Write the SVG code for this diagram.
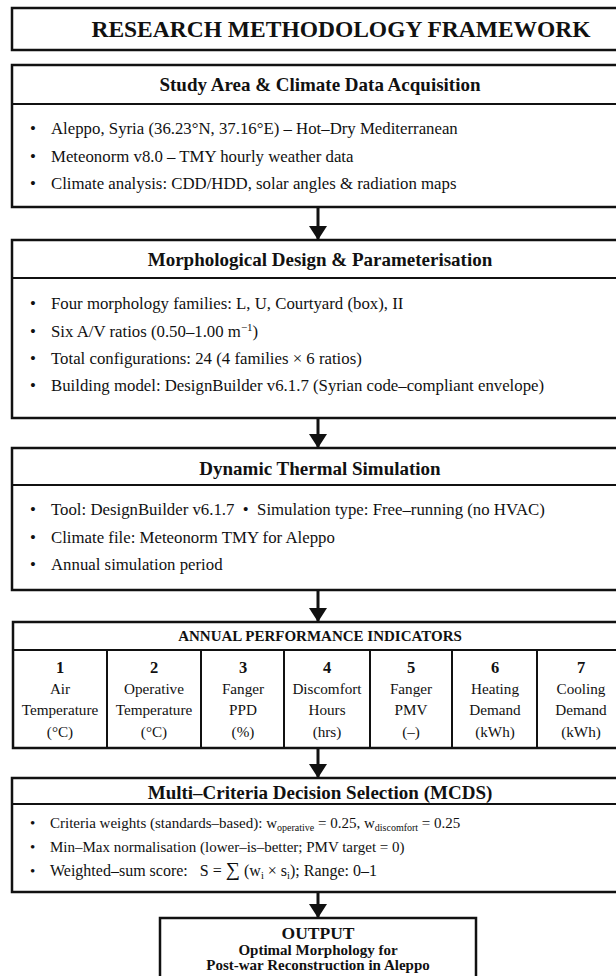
<svg xmlns="http://www.w3.org/2000/svg" width="616" height="976" viewBox="0 0 616 976">
<defs>
<style>
.box{fill:#fff;stroke:#111;stroke-width:2.5}
.div{stroke:#111;stroke-width:2}
.t{font-family:"Liberation Serif","Times New Roman",serif;fill:#111}
.title{font-size:23.5px;font-weight:bold;text-anchor:middle}
.hd{font-size:19px;font-weight:bold;text-anchor:middle}
.b{font-size:16.8px}
.bs{font-size:15px}
.c{font-size:15.2px;text-anchor:middle}
.n{font-size:16.5px;font-weight:bold;text-anchor:middle}
.conn{stroke:#111;stroke-width:3;fill:none}
</style>
<marker id="ah" viewBox="0 0 14 18" refX="14" refY="9" markerWidth="14" markerHeight="18" markerUnits="userSpaceOnUse" orient="auto">
<path d="M0,0 L14,9 L0,18 z" fill="#111"/>
</marker>
</defs>
<rect width="616" height="976" fill="#fff"/>

<g id="title">
<rect class="box" x="12" y="8" width="660" height="42"/>
<text class="t title" x="341" y="37">RESEARCH METHODOLOGY FRAMEWORK</text>
</g>

<g id="study-area">
<rect class="box" x="12" y="65" width="614" height="142"/>
<line class="div" x1="12" y1="104" x2="626" y2="104"/>
<text class="t hd" x="320" y="91">Study Area &amp; Climate Data Acquisition</text>
<text class="t b" x="30" y="134">•</text><text class="t b" x="51" y="134">Aleppo, Syria (36.23°N, 37.16°E) – Hot–Dry Mediterranean</text>
<text class="t b" x="30" y="162">•</text><text class="t b" x="51" y="162">Meteonorm v8.0 – TMY hourly weather data</text>
<text class="t b" x="30" y="189">•</text><text class="t b" x="51" y="189">Climate analysis: CDD/HDD, solar angles &amp; radiation maps</text>
</g>

<g id="morphological-design">
<rect class="box" x="12" y="240" width="614" height="178"/>
<line class="div" x1="12" y1="278" x2="626" y2="278"/>
<text class="t hd" x="320" y="266">Morphological Design &amp; Parameterisation</text>
<text class="t b" x="30" y="309">•</text><text class="t b" x="51" y="309">Four morphology families: L, U, Courtyard (box), II</text>
<text class="t b" x="30" y="337">•</text><text class="t b" x="51" y="337">Six A/V ratios (0.50–1.00 m<tspan font-size="11" dy="-6">−1</tspan><tspan dy="6">)</tspan></text>
<text class="t b" x="30" y="364">•</text><text class="t b" x="51" y="364">Total configurations: 24 (4 families × 6 ratios)</text>
<text class="t b" x="30" y="391">•</text><text class="t b" x="51" y="391">Building model: DesignBuilder v6.1.7 (Syrian code–compliant envelope)</text>
</g>

<g id="thermal-simulation">
<rect class="box" x="12" y="448" width="614" height="142"/>
<line class="div" x1="12" y1="485" x2="626" y2="485"/>
<text class="t hd" x="320" y="475">Dynamic Thermal Simulation</text>
<text class="t b" x="30" y="515">•</text><text class="t b" x="51" y="515" xml:space="preserve">Tool: DesignBuilder v6.1.7  •  Simulation type: Free–running (no HVAC)</text>
<text class="t b" x="30" y="543">•</text><text class="t b" x="51" y="543">Climate file: Meteonorm TMY for Aleppo</text>
<text class="t b" x="30" y="570">•</text><text class="t b" x="51" y="570">Annual simulation period</text>
</g>

<g id="performance-indicators">
<rect class="box" x="13" y="622" width="613" height="126"/>
<line class="div" x1="13" y1="650" x2="626" y2="650"/>
<line class="div" x1="107" y1="650" x2="107" y2="748"/>
<line class="div" x1="201" y1="650" x2="201" y2="748"/>
<line class="div" x1="284" y1="650" x2="284" y2="748"/>
<line class="div" x1="370" y1="650" x2="370" y2="748"/>
<line class="div" x1="452" y1="650" x2="452" y2="748"/>
<line class="div" x1="537" y1="650" x2="537" y2="748"/>
<text class="t" x="320" y="641" font-size="15" font-weight="bold" text-anchor="middle">ANNUAL PERFORMANCE INDICATORS</text>
<text class="t n" x="60" y="673">1</text>
<text class="t c" x="60" y="694">Air</text>
<text class="t c" x="60" y="715">Temperature</text>
<text class="t c" x="60" y="737">(°C)</text>
<text class="t n" x="154" y="673">2</text>
<text class="t c" x="154" y="694">Operative</text>
<text class="t c" x="154" y="715">Temperature</text>
<text class="t c" x="154" y="737">(°C)</text>
<text class="t n" x="243" y="673">3</text>
<text class="t c" x="243" y="694">Fanger</text>
<text class="t c" x="243" y="715">PPD</text>
<text class="t c" x="243" y="737">(%)</text>
<text class="t n" x="327" y="673">4</text>
<text class="t c" x="327" y="694">Discomfort</text>
<text class="t c" x="327" y="715">Hours</text>
<text class="t c" x="327" y="737">(hrs)</text>
<text class="t n" x="411" y="673">5</text>
<text class="t c" x="411" y="694">Fanger</text>
<text class="t c" x="411" y="715">PMV</text>
<text class="t c" x="411" y="737">(–)</text>
<text class="t n" x="495" y="673">6</text>
<text class="t c" x="495" y="694">Heating</text>
<text class="t c" x="495" y="715">Demand</text>
<text class="t c" x="495" y="737">(kWh)</text>
<text class="t n" x="581" y="673">7</text>
<text class="t c" x="581" y="694">Cooling</text>
<text class="t c" x="581" y="715">Demand</text>
<text class="t c" x="581" y="737">(kWh)</text>
</g>

<g id="mcds">
<rect class="box" x="12" y="778" width="614" height="114"/>
<line class="div" x1="12" y1="804" x2="626" y2="804"/>
<text class="t hd" x="320" y="799">Multi–Criteria Decision Selection (MCDS)</text>
<text class="t bs" x="30" y="828">•</text><text class="t bs" x="50" y="828">Criteria weights (standards–based): w<tspan font-size="10" dy="3">operative</tspan><tspan dy="-3"> = 0.25, w</tspan><tspan font-size="10" dy="3">discomfort</tspan><tspan dy="-3"> = 0.25</tspan></text>
<text class="t bs" x="30" y="852">•</text><text class="t bs" x="50" y="852">Min–Max normalisation (lower–is–better; PMV target = 0)</text>
<text class="t bs" x="30" y="876">•</text><text class="t" x="50" y="876" style="font-size:16px" xml:space="preserve">Weighted–sum score:   S = <tspan style="font-size:20px">∑</tspan> (w<tspan style="font-size:10.5px" dy="3">i</tspan><tspan dy="-3"> × s</tspan><tspan style="font-size:10.5px" dy="3">i</tspan><tspan dy="-3">); Range: 0–1</tspan></text>
</g>

<g id="output">
<rect class="box" x="160" y="918" width="316" height="80"/>
<text class="t" x="318" y="939" font-size="17.5" font-weight="bold" text-anchor="middle">OUTPUT</text>
<text class="t" x="318" y="955" font-size="15" font-weight="bold" text-anchor="middle">Optimal Morphology for</text>
<text class="t" x="318" y="970" font-size="15" font-weight="bold" text-anchor="middle">Post-war Reconstruction in Aleppo</text>
</g>

<g id="connectors">
<line class="conn" x1="318" y1="207" x2="318" y2="240" marker-end="url(#ah)"/>
<line class="conn" x1="318" y1="418" x2="318" y2="448" marker-end="url(#ah)"/>
<line class="conn" x1="318" y1="590" x2="318" y2="622" marker-end="url(#ah)"/>
<line class="conn" x1="318" y1="748" x2="318" y2="778" marker-end="url(#ah)"/>
<line class="conn" x1="318" y1="892" x2="318" y2="918" marker-end="url(#ah)"/>
</g>
</svg>
